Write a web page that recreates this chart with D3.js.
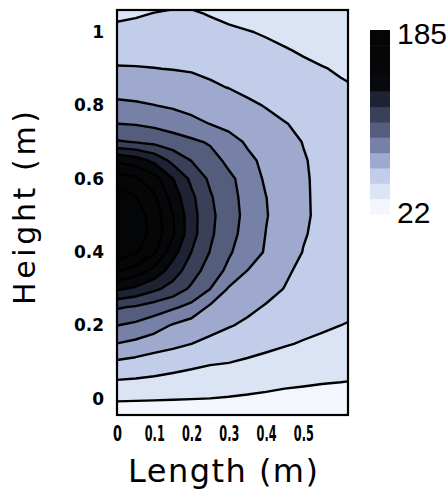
<!DOCTYPE html>
<html>
<head>
<meta charset="utf-8">
<script src="https://cdn.jsdelivr.net/npm/d3@7"></script>
<style>
	body { margin: 0; background: #fff; }
	svg text { fill: #000; }
</style>
</head>
<body>
<div id="area"></div>
<script>

/**
* DATA
* ====
* Values on a regular grid (x = length, y = height)
*/
var gridX = [0, 0.05, 0.10, 0.15, 0.20, 0.25, 0.30, 0.35, 0.40, 0.45, 0.50, 0.55, 0.60, 0.65];
var gridY = [1.10, 1.05, 1.00, 0.95, 0.90, 0.85, 0.80, 0.75, 0.70, 0.65, 0.60, 0.55, 0.50,
	0.45, 0.40, 0.35, 0.30, 0.25, 0.20, 0.15, 0.10, 0.05, 0.00, -0.05];

var gridValues = [
	[41, 42.5, 44, 45, 45, 44, 42, 40, 38.5, 37.5, 37, 36.5, 36.2, 36],
	[47, 48, 49.5, 50.5, 50.5, 48.5, 46, 44, 42, 40, 38.5, 37.5, 36.8, 36.3],
	[52, 53, 54, 54.5, 54, 53, 51.5, 49.8, 48, 46, 44, 42, 40.5, 39],
	[58, 58.5, 59, 59, 58.5, 57.5, 56, 54, 52, 50, 48, 46, 44.5, 43],
	[63.8, 63.5, 63, 62.5, 62, 61, 59.5, 57.5, 55.5, 53.5, 51.5, 49.8, 48, 46.5],
	[71, 70.5, 69.5, 68, 66, 64, 62.5, 60.5, 58.5, 56.5, 54.5, 52.5, 50.5, 49],
	[79, 78, 76.5, 74.5, 72, 69.5, 67, 64.5, 62.3, 60, 58, 56, 54, 52.5],
	[90, 89, 87, 84, 80, 76, 72, 68.5, 65.5, 63.2, 61, 59, 57, 55.5],
	[105, 103, 100, 96, 92.5, 88.5, 82, 74.5, 70, 66, 62.5, 60, 58, 56.5],
	[142, 137, 127, 113, 103, 95, 87, 79.5, 73, 68, 63.5, 60.5, 58.5, 57],
	[165, 160, 150, 131, 114, 101, 92.5, 85, 74, 69, 64, 60.5, 59, 57.5],
	[178, 172, 160, 138, 120, 105, 94, 86, 76.5, 70, 64, 60.8, 59.5, 58],
	[184, 178, 166, 145, 122, 107, 95, 86.5, 77, 70.5, 64, 61, 59.5, 58],
	[185, 179, 167, 146, 122, 106, 94, 85.5, 76, 69.5, 63.5, 60.5, 58.5, 57],
	[180, 173, 160, 136, 117, 103, 91.5, 83, 75, 67.5, 62.5, 59.5, 57, 55.5],
	[160, 152, 140, 124, 110, 97, 87, 76.3, 70, 64.5, 60.5, 58, 55.5, 54],
	[133, 128, 120, 112, 101, 90, 75, 71, 66, 62.5, 59, 56.5, 54, 52.5],
	[105, 102, 97, 92, 86, 74, 69, 65, 62, 59, 56.5, 54, 52, 50.5],
	[90, 87, 82, 75, 70, 66.5, 63.5, 61, 58, 55.5, 53, 51, 49.2, 48],
	[76, 73, 69, 66, 62.8, 60, 57.5, 55, 52.5, 50.2, 48.2, 46.5, 45, 44],
	[61, 59, 56.5, 54.5, 52.5, 50.5, 49.5, 47.5, 45.5, 43.5, 42, 40.5, 39.5, 38.5],
	[48.8, 48, 47, 45.5, 44, 42.5, 41, 39.5, 38.5, 37.5, 37, 36.4, 36, 35.5],
	[36.5, 36.3, 36.1, 35.9, 35.7, 35.4, 34.9, 34.4, 33.8, 33.2, 32.7, 32.2, 31.8, 31.5],
	[30, 30, 30, 29.8, 29.6, 29.4, 29.2, 29, 28.8, 28.6, 28.4, 28.2, 28, 28]
];

var scaleMin = 22;
var scaleMax = 185;
var levels = [35.6, 49.2, 62.8, 76.3, 89.9, 103.5, 117.1, 130.7, 144.2, 157.8, 171.4];

var xTicks = [0, 0.1, 0.2, 0.3, 0.4, 0.5];
var yTicks = [0, 0.2, 0.4, 0.6, 0.8, 1];

// one colour per band, lowest first
var bandColors = ['#f3f6fc', '#dbe4f5', '#c2cdea', '#9ea9cd', '#7780a6', '#555d7d',
	'#3a4058', '#1e2232', '#08090d', '#060709', '#050608', '#040506'];


/**
* CANVAS
* ======
*/
var width = 448;
var height = 498;

var svg = d3.select('#area').append('svg')
	.attr('width', width)
	.attr('height', height);

var x = d3.scaleLinear().domain([0, 0.62]).range([117, 348]);
var y = d3.scaleLinear().domain([-0.044, 1.06]).range([415, 10]);

svg.append('clipPath').attr('id', 'frame-clip')
	.append('rect')
	.attr('x', x(0)).attr('y', y(1.06))
	.attr('width', x(0.62) - x(0))
	.attr('height', y(-0.044) - y(1.06));


/**
* CONTOURS
* ========
* d3.contours works in grid space, sample k sits at k + 0.5
*/
var nx = gridX.length;
var ny = gridY.length;
var dx = gridX[1] - gridX[0];
var dy = gridY[0] - gridY[1];

var flat = [];
gridValues.forEach(function(row){ flat = flat.concat(row); });

var bands = d3.contours().size([nx, ny]).thresholds(levels)(flat);

var toPlot = d3.geoTransform({
	point: function(gx, gy){
		this.stream.point(x(gridX[0] + (gx - 0.5) * dx), y(gridY[0] - (gy - 0.5) * dy));
	}
});
var path = d3.geoPath(toPlot);

var plot = svg.append('g').attr('clip-path', 'url(#frame-clip)');

plot.append('rect')
	.attr('x', x(0)).attr('y', y(1.06))
	.attr('width', x(0.62) - x(0))
	.attr('height', y(-0.044) - y(1.06))
	.attr('fill', bandColors[0]);

plot.selectAll('path.band')
	.data(bands)
	.enter().append('path')
	.attr('class', 'band')
	.attr('d', path)
	.attr('fill', function(d, i){ return bandColors[i + 1]; });

plot.selectAll('path.iso')
	.data(bands)
	.enter().append('path')
	.attr('class', 'iso')
	.attr('d', path)
	.attr('fill', 'none')
	.attr('stroke', '#000')
	.attr('stroke-width', 2.4)
	.attr('stroke-linejoin', 'round');

// frame
svg.append('rect')
	.attr('x', x(0)).attr('y', y(1.06))
	.attr('width', x(0.62) - x(0))
	.attr('height', y(-0.044) - y(1.06))
	.attr('fill', 'none')
	.attr('stroke', '#000')
	.attr('stroke-width', 2.2);


/**
* AXES
* ====
*/
var tickFont = function(sel, size){
	sel.selectAll('text')
		.style('font-family', '"DejaVu Sans", sans-serif')
		.style('font-weight', 'bold')
		.style('font-size', size + 'px')
		.attr('fill', '#000');
	sel.select('.domain').remove();
};

// x labels are narrow and tall in the picture
var xAxisG = svg.append('g')
	.attr('transform', 'translate(0,' + y(-0.044) + ')')
	.call(d3.axisBottom(x).tickValues(xTicks).tickSize(0).tickPadding(11).tickFormat(function(d){ return String(d); }))
	.call(tickFont, 21);

xAxisG.selectAll('text')
	.filter(function(d){ return String(d).length > 1; })
	.attr('textLength', 20)
	.attr('lengthAdjust', 'spacingAndGlyphs');
xAxisG.selectAll('text')
	.filter(function(d){ return String(d).length === 1; })
	.attr('textLength', 9)
	.attr('lengthAdjust', 'spacingAndGlyphs');

svg.append('g')
	.attr('transform', 'translate(' + x(0) + ',0)')
	.call(d3.axisLeft(y).tickValues(yTicks).tickSize(0).tickPadding(13).tickFormat(function(d){ return String(d); }))
	.call(tickFont, 17);

svg.append('text')
	.attr('x', 223).attr('y', 482)
	.attr('text-anchor', 'middle')
	.attr('textLength', 190)
	.attr('lengthAdjust', 'spacing')
	.style('font-family', '"DejaVu Sans", sans-serif')
	.style('font-size', '32px')
	.text('Length (m)');

svg.append('text')
	.attr('transform', 'translate(35,208) rotate(-90)')
	.attr('text-anchor', 'middle')
	.attr('textLength', 194)
	.attr('lengthAdjust', 'spacing')
	.style('font-family', '"DejaVu Sans", sans-serif')
	.style('font-size', '30px')
	.text('Height (m)');


/**
* COLOUR BAR
* ==========
*/
var barScale = d3.scaleLinear().domain([scaleMin, scaleMax]).range([214, 30]);
var barEdges = [scaleMin].concat(levels).concat([scaleMax]);

svg.append('g').selectAll('rect')
	.data(bandColors)
	.enter().append('rect')
	.attr('x', 370)
	.attr('width', 20)
	.attr('y', function(d, i){ return barScale(barEdges[i + 1]); })
	.attr('height', function(d, i){ return barScale(barEdges[i]) - barScale(barEdges[i + 1]) + 0.5; })
	.attr('fill', function(d){ return d; });

svg.append('text')
	.attr('x', 397).attr('y', 44)
	.style('font-family', '"Liberation Sans", Arial, sans-serif')
	.style('font-size', '30px')
	.text(String(scaleMax));

svg.append('text')
	.attr('x', 397).attr('y', 223)
	.style('font-family', '"Liberation Sans", Arial, sans-serif')
	.style('font-size', '30px')
	.text(String(scaleMin));

</script>
</body>
</html>
